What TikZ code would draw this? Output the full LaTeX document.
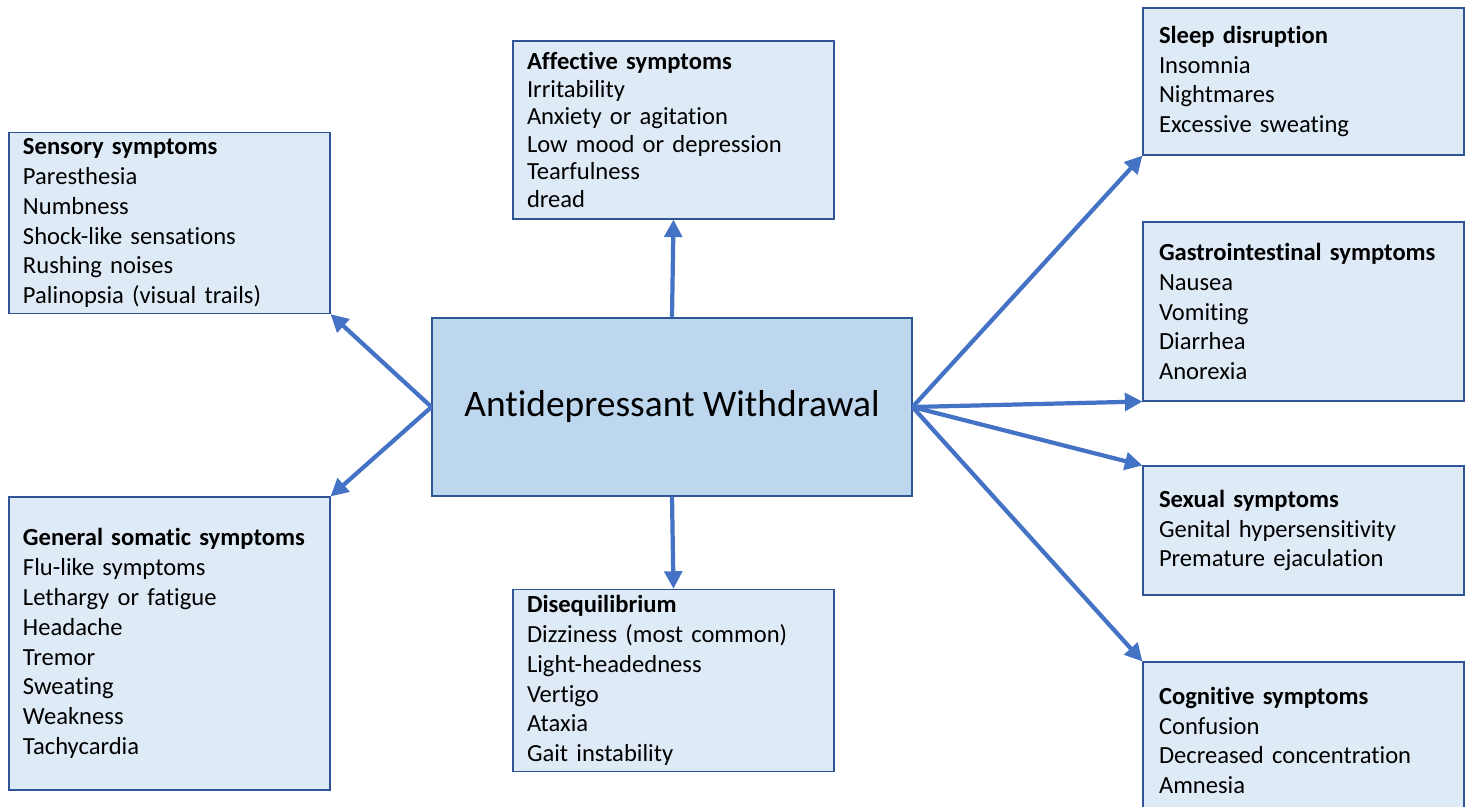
\documentclass[tikz,border=0pt]{standalone}
\usepackage{fontspec}
\setmainfont{Carlito}[Ligatures=NoCommon]
\usetikzlibrary{arrows.meta}
\definecolor{BoxFill}{RGB}{222,235,247}
\definecolor{HubFill}{RGB}{189,215,238}
\definecolor{EdgeBlue}{RGB}{68,114,196}
\definecolor{LineBlue}{RGB}{47,85,151}

\begin{document}
\begin{tikzpicture}[
    symbox/.style={draw=LineBlue, line width=0.6pt, fill=BoxFill, minimum width=6.42cm,
        text width=5.86cm, inner xsep=0.28cm, align=left, font=\fontsize{14}{17}\selectfont},
    link/.style={-{Triangle[length=10pt,width=10pt]}, line width=2.4pt, EdgeBlue}
]
    \useasboundingbox (0,0) rectangle (29.4,-16.14);
    % Hub
    \node[draw=LineBlue, line width=0.6pt, fill=HubFill, minimum width=9.6cm, minimum height=3.56cm,
        font=\fontsize{21.3}{25}\selectfont] (hub) at (13.44,-8.14) {Antidepressant Withdrawal};
    % Left column
    \node[symbox, minimum height=3.6cm] (sens) at (3.39,-4.46)
        {\textbf{Sensory symptoms}\\Paresthesia\\Numbness\\Shock-like sensations\\Rushing noises\\Palinopsia (visual trails)};
    \node[symbox, minimum height=5.86cm] (soma) at (3.39,-12.87)
        {\textbf{General somatic symptoms}\\Flu-like symptoms\\Lethargy or fatigue\\Headache\\Tremor\\Sweating\\Weakness\\Tachycardia};
    % Middle column
    \node[symbox, minimum height=3.56cm, font=\fontsize{14}{15.7}\selectfont] (aff) at (13.47,-2.6)
        {\textbf{Affective symptoms}\\Irritability\\Anxiety or agitation\\Low mood or depression\\Tearfulness\\dread};
    \node[symbox, minimum height=3.58cm] (diseq) at (13.47,-13.61)
        {\textbf{Disequilibrium}\\Dizziness (most common)\\Light-headedness\\Vertigo\\Ataxia\\Gait instability};
    % Right column
    \begin{scope}[symbox/.append style={inner xsep=0.32cm, text width=5.78cm}]
        \node[symbox, minimum height=2.94cm] (sleep) at (26.07,-1.63)
            {\textbf{Sleep disruption}\\Insomnia\\Nightmares\\Excessive sweating};
        \node[symbox, minimum height=3.58cm] (gastro) at (26.07,-6.23)
            {\textbf{Gastrointestinal symptoms}\\Nausea\\Vomiting\\Diarrhea\\Anorexia};
        \node[symbox, minimum height=2.58cm] (sexual) at (26.07,-10.61)
            {\textbf{Sexual symptoms}\\Genital hypersensitivity\\Premature ejaculation};
        \node[symbox, minimum height=3.14cm] (cogn) at (26.07,-14.81)
            {\textbf{Cognitive symptoms}\\Confusion\\Decreased concentration\\Amnesia};
    \end{scope}
    % Arrows
    \draw[link] (hub.north) -- (aff.south);
    \draw[link] (hub.south) -- (diseq.north);
    \draw[link] (hub.west) -- (sens.south east);
    \draw[link] (hub.west) -- (soma.north east);
    \foreach \tgt in {sleep.south west, gastro.south west, sexual.north west, cogn.north west}
        \draw[link] (hub.east) -- (\tgt);
\end{tikzpicture}
\end{document}
